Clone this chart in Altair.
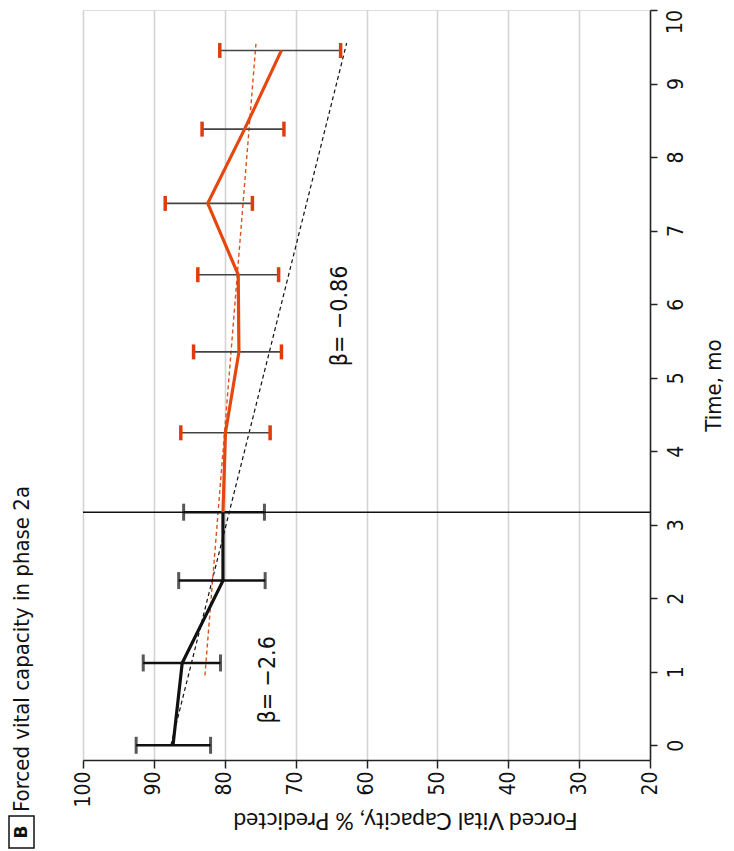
import altair as alt
import pandas as pd

# ---- data ----
fvc_ticks = [20, 30, 40, 50, 60, 70, 80, 90, 100]
time_ticks = [0, 1, 2, 3, 4, 5, 6, 7, 8, 9, 10]
top_time_label = ["10"]
top_time_value = [10]

phase1_t = [0, 1.12, 2.24, 3.17]
phase1_mean = [87.3, 86.0, 80.25, 80.25]
phase1_lo = [82.0, 80.6, 74.3, 74.4]
phase1_hi = [92.5, 91.5, 86.5, 85.8]

phase2_t = [4.25, 5.35, 6.40, 7.37, 8.38, 9.45]
phase2_mean = [79.9, 78.0, 78.1, 82.4, 77.2, 72.0]
phase2_lo = [73.6, 72.0, 72.4, 76.1, 71.65, 63.65]
phase2_hi = [86.2, 84.4, 83.8, 88.4, 83.2, 80.7]

switch_t = [3.17]

trend1_t = [0, 9.55]
trend1_fvc = [87.6, 62.8]
trend2_t = [0.95, 9.54]
trend2_fvc = [82.8, 75.6]

beta_text = ["β= −2.6", "β= −0.86"]
beta_t = [0.89, 5.84]
beta_fvc = [73.9, 63.8]

NARROW = "Liberation Sans Narrow, DejaVu Sans Condensed, sans-serif"
ORANGE = "#e5480f"
CAP = "#e03c0a"

p1 = pd.DataFrame({"t": phase1_t, "fvc": phase1_mean, "lo": phase1_lo, "hi": phase1_hi})
p2 = pd.DataFrame({"t": phase2_t, "fvc": phase2_mean, "lo": phase2_lo, "hi": phase2_hi})
p2_line = pd.DataFrame({"t": [phase1_t[-1]] + phase2_t, "fvc": [phase1_mean[-1]] + phase2_mean})
tr1 = pd.DataFrame({"t": trend1_t, "fvc": trend1_fvc})
tr2 = pd.DataFrame({"t": trend2_t, "fvc": trend2_fvc})
beta = pd.DataFrame({"label": beta_text, "t": beta_t, "fvc": beta_fvc})
sw = pd.DataFrame({"t": switch_t})
top_lab = pd.DataFrame({"t": top_time_value, "label": top_time_label})
one = pd.DataFrame({"a": [0]})

x_scale = alt.Scale(domain=[20, 100], reverse=True, nice=False, zero=False)
y_scale = alt.Scale(domain=[-0.2, 10], nice=False, zero=False)

x_axis = alt.Axis(
    values=fvc_ticks, grid=True, gridColor="#d4d4d4", gridWidth=1.6,
    domainColor="#222", domainWidth=1.5, tickColor="#222", tickWidth=1.5, tickSize=8,
    labelAngle=270, labelAlign="right", labelBaseline="middle", labelPadding=3,
    labelFont=NARROW, labelFontSize=21, labelColor="#111",
    title="Forced Vital Capacity, % Predicted", titleAngle=180, titleBaseline="bottom",
    titleAlign="center", titleX=322, titleY=47,
    titleFont="Lato", titleFontSize=23, titleFontWeight="normal", titleColor="#111",
)
y_axis = alt.Axis(
    orient="right", values=time_ticks, grid=False,
    labelExpr="datum.value == 10 ? '' : datum.label",
    domainColor="#222", domainWidth=1.5, tickColor="#222", tickWidth=1.5, tickSize=7,
    labelAngle=270, labelAlign="center", labelBaseline="top", labelPadding=8,
    labelFont=NARROW, labelFontSize=21, labelColor="#111",
    title="Time, mo", titleAngle=270, titleBaseline="top",
    titleFont=NARROW, titleFontSize=22, titleFontWeight="normal", titleColor="#111",
    titlePadding=17,
)

X = lambda f: alt.X(f"{f}:Q", scale=x_scale, axis=x_axis)
Y = lambda f: alt.Y(f"{f}:Q", scale=y_scale, axis=y_axis)

switch_rule = alt.Chart(sw).mark_rule(color="#111", strokeWidth=1.6).encode(y=Y("t"))

p1_bars = alt.Chart(p1).mark_rule(color="#111", strokeWidth=2.5).encode(
    x=X("lo"), x2="hi", y=Y("t"))
p1_caps_lo = alt.Chart(p1).mark_tick(color="#111", orient="vertical", size=17, thickness=3).encode(
    x=X("lo"), y=Y("t"))
p1_caps_hi = alt.Chart(p1).mark_tick(color="#111", orient="vertical", size=17, thickness=3).encode(
    x=X("hi"), y=Y("t"))

p2_bars = alt.Chart(p2).mark_rule(color="#444", strokeWidth=1.6).encode(
    x=X("lo"), x2="hi", y=Y("t"))
p2_caps_lo = alt.Chart(p2).mark_tick(color=CAP, opacity=1, orient="vertical", size=15, thickness=3.5).encode(
    x=X("lo"), y=Y("t"))
p2_caps_hi = alt.Chart(p2).mark_tick(color=CAP, opacity=1, orient="vertical", size=15, thickness=3.5).encode(
    x=X("hi"), y=Y("t"))

trend1_line = alt.Chart(tr1).mark_line(color="#111", strokeWidth=1.2, strokeDash=[4, 3]).encode(
    x=X("fvc"), y=Y("t"), order="t:Q")
trend2_line = alt.Chart(tr2).mark_line(color="#d9531e", strokeWidth=1.4, strokeDash=[4, 3]).encode(
    x=X("fvc"), y=Y("t"), order="t:Q")

p1_line = alt.Chart(p1).mark_line(color="#111", strokeWidth=3.2).encode(
    x=X("fvc"), y=Y("t"), order="t:Q")
p2_main = alt.Chart(p2_line).mark_line(color=ORANGE, strokeWidth=3.2).encode(
    x=X("fvc"), y=Y("t"), order="t:Q")

beta_labels = alt.Chart(beta).mark_text(
    angle=270, align="center", baseline="middle", font=NARROW, fontSize=23, color="#111"
).encode(x=X("fvc"), y=Y("t"), text="label:N")

# last time tick label, kept flush inside the chart's top edge
top_label = alt.Chart(top_lab).mark_text(
    angle=270, align="right", baseline="top", font=NARROW, fontSize=21, color="#111"
).encode(x=alt.value(582), y=Y("t"), text="label:N")

title_text = alt.Chart(one).mark_text(
    text="Forced vital capacity in phase 2a", angle=270, align="left", baseline="middle",
    font=NARROW, fontSize=22, color="#111"
).encode(x=alt.value(-61), y=alt.value(802))

b_box = alt.Chart(one).mark_rect(fill="white", stroke="#111", strokeWidth=1.5).encode(
    x=alt.value(-74), x2=alt.value(-49), y=alt.value(806), y2=alt.value(838))
b_text = alt.Chart(one).mark_text(
    text="B", angle=270, align="center", baseline="middle",
    font="DejaVu Sans", fontSize=17, fontWeight="bold", color="#111"
).encode(x=alt.value(-61), y=alt.value(822))

chart = alt.layer(
    switch_rule, trend1_line, trend2_line,
    p1_bars, p1_caps_lo, p1_caps_hi,
    p2_bars, p2_caps_lo, p2_caps_hi,
    p1_line, p2_main, beta_labels, top_label,
    title_text, b_box, b_text,
).properties(
    width=567, height=750,
    autosize=alt.AutoSizeParams(type="none"),
    padding={"left": 75, "top": 2, "right": 76, "bottom": 90},
).configure_view(stroke=None).configure(background="white")

chart.save("out.html", embed_options={"renderer": "svg", "actions": False})
